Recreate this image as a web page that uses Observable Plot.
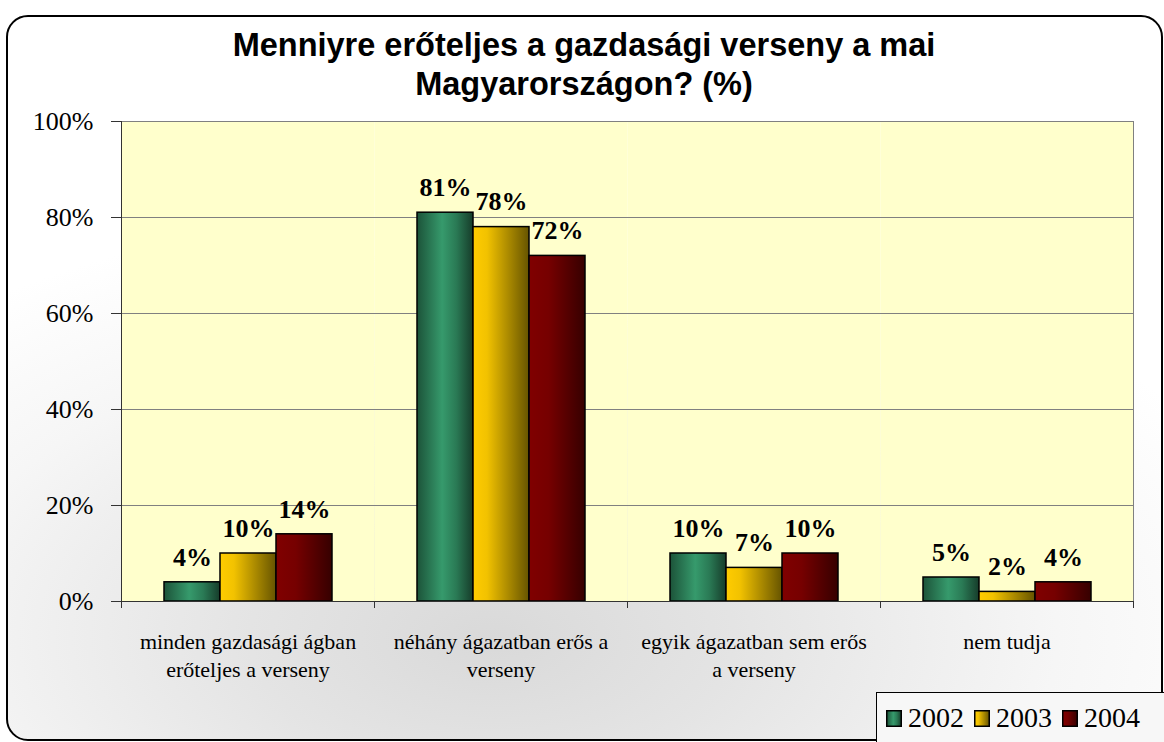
<!DOCTYPE html>
<html><head><meta charset="utf-8">
<script src="https://cdn.jsdelivr.net/npm/d3@7"></script>
<script src="https://cdn.jsdelivr.net/npm/@observablehq/plot@0.6"></script>
<style>
body{margin:0;background:#fff;}
#wrap{position:relative;width:1164px;height:742px;overflow:hidden;font-family:"Liberation Serif","DejaVu Serif",serif;}
#frame{position:absolute;left:6px;top:15px;width:1153px;height:722px;border:2px solid #000;border-radius:22px;
 background:radial-gradient(ellipse 70% 60% at 42% 86%, #d9d9d9 0%, #e4e4e4 30%, #f6f6f6 70%, #ffffff 100%);}
#title{position:absolute;left:0;top:26px;width:1168px;text-align:center;font:bold 32.5px "Liberation Sans",Arial,sans-serif;line-height:39px;color:#000;}
#chart{position:absolute;left:0;top:0;}
#legend{position:absolute;left:876px;top:692px;width:300px;height:60px;border:1px solid #000;background:#f7f7f7;display:flex;align-items:flex-start;padding-top:8px;box-sizing:border-box;padding-left:9px;font-family:"Liberation Serif","DejaVu Serif",serif;font-size:28px;line-height:34px;}
#legend .item{display:flex;align-items:center;margin-right:10px;}
#legend svg{margin-right:6px;}
</style>
</head><body>
<svg width="0" height="0" style="position:absolute">
 <defs>
  <linearGradient id="g2002" x1="0" x2="1" y1="0" y2="0">
   <stop offset="0" stop-color="#1c5339"/><stop offset="0.45" stop-color="#369a6c"/><stop offset="0.7" stop-color="#2a7a55"/><stop offset="1" stop-color="#163c2a"/>
  </linearGradient>
  <linearGradient id="g2003" x1="0" x2="1" y1="0" y2="0">
   <stop offset="0" stop-color="#ffcc00"/><stop offset="0.25" stop-color="#f2c200"/><stop offset="1" stop-color="#665400"/>
  </linearGradient>
  <linearGradient id="g2004" x1="0" x2="1" y1="0" y2="0">
   <stop offset="0" stop-color="#800000"/><stop offset="0.35" stop-color="#760000"/><stop offset="1" stop-color="#360000"/>
  </linearGradient>
 </defs>
</svg>
<div id="wrap">
 <div id="frame"></div>
 <div id="title">Menniyre erőteljes a gazdasági verseny a mai<br>Magyarországon? (%)</div>
 <div id="chart"></div>
 <div id="legend"></div>
</div>
<script>
const categories = ["minden gazdasági ágban\nerőteljes a verseny", "néhány ágazatban erős a\nverseny", "egyik ágazatban sem erős\na verseny", "nem tudja"];
const years = ["2002", "2003", "2004"];
const values2002 = [4, 81, 10, 5];
const values2003 = [10, 78, 7, 2];
const values2004 = [14, 72, 10, 4];
const yTicks = [0, 20, 40, 60, 80, 100];

const series = [values2002, values2003, values2004];
const rows = categories.flatMap((c, i) => years.map((y, j) => ({cat: c, year: y, value: series[j][i]})));

const serif = "Liberation Serif, DejaVu Serif, serif";
const W = 1164, H = 742, mL = 121, mR = 31, mT = 121, mB = 141;
const facetStep = (W - mL - mR) / categories.length;

const chart = Plot.plot({
  width: W, height: H,
  marginTop: mT, marginLeft: mL, marginRight: mR, marginBottom: mB,
  style: {background: "transparent", fontFamily: serif, fontSize: "26px", color: "#000"},
  fx: {domain: categories, padding: 0, label: null},
  x: {domain: years, paddingInner: 0, paddingOuter: 0.72, axis: null},
  y: {domain: [0, 100], axis: null},
  marks: [
    Plot.frame({fill: "#FFFFCC", stroke: null}),
    Plot.gridY(yTicks, {stroke: "#808080", strokeOpacity: 1}),
    ...years.map(yr => Plot.barY(rows.filter(d => d.year === yr), {
      fx: "cat", x: "year", y: "value", fill: `url(#g${yr})`, stroke: "#000", strokeWidth: 1.5
    })),
    Plot.frame({stroke: "#808080", facet: "super"}),
    Plot.ruleY([0], {stroke: "#333"}),
    Plot.axisY({ticks: yTicks, tickFormat: d => d + "%", tickSize: 10, tickPadding: 18, fontSize: 26, fontFamily: serif, label: null, stroke: "#333"}),
    Plot.frame({anchor: "left", stroke: "#333", facet: "super"}),
    Plot.text(rows, {fx: "cat", x: "year", y: "value", text: d => d.value + "%", dy: -25, fontWeight: "bold", fontSize: 26, fontFamily: serif, fill: "#000"}),
    Plot.axisFx({anchor: "bottom", tickSize: 0, tickPadding: 28, fontSize: 22, fontFamily: serif, lineHeight: 1.26, label: null}),
    Plot.axisFx({anchor: "bottom", tickSize: 7, text: null, dx: -facetStep / 2, stroke: "#333", label: null}),
    Plot.axisFx({anchor: "bottom", ticks: [categories[categories.length - 1]], tickSize: 7, text: null, dx: facetStep / 2, stroke: "#333", label: null})
  ]
});
document.getElementById("chart").appendChild(chart);

const legend = d3.select("#legend");
years.forEach(yr => {
  const item = legend.append("div").attr("class", "item");
  const s = item.append("svg").attr("width", 16).attr("height", 17);
  s.append("rect").attr("x", 0.75).attr("y", 0.75).attr("width", 14.5).attr("height", 15.5)
    .attr("fill", `url(#g${yr})`).attr("stroke", "#000").attr("stroke-width", 1.5);
  item.append("span").text(yr);
});
</script>
</body></html>
